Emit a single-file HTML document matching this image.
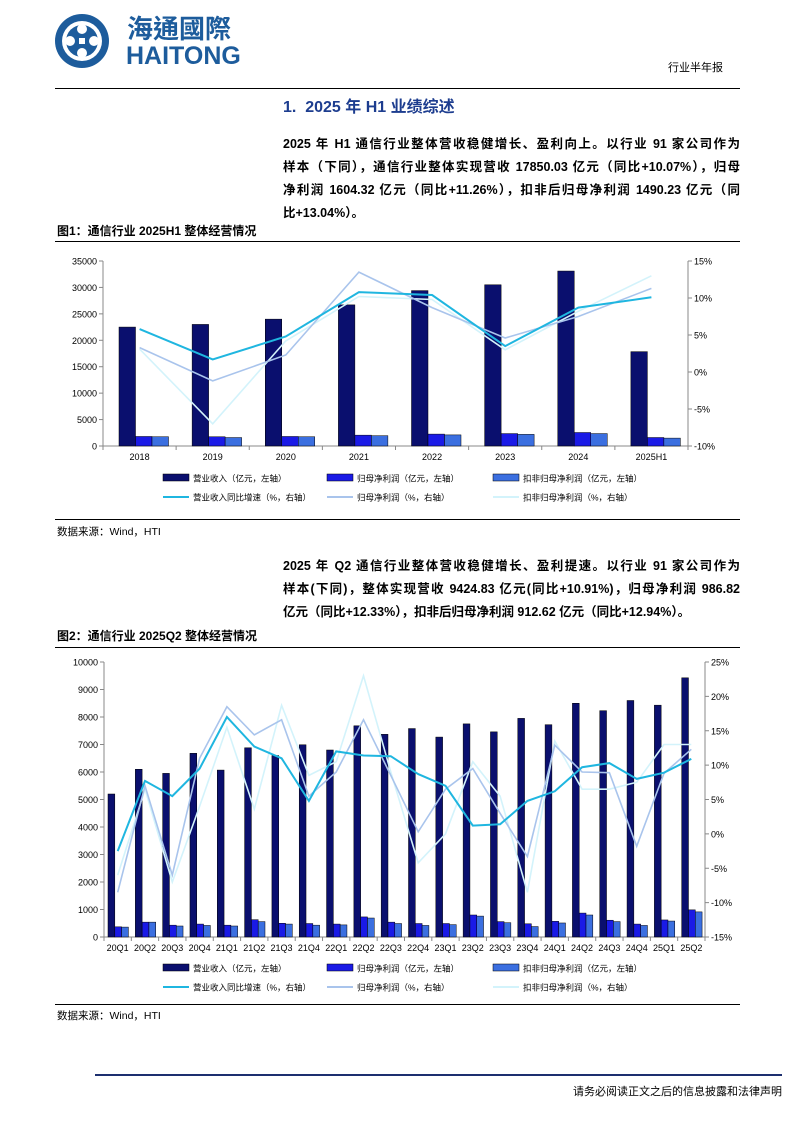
<!DOCTYPE html>
<html><head><meta charset="utf-8">
<style>
body{margin:0;background:#fff;}
#pg{position:relative;width:794px;height:1123px;overflow:hidden;font-family:"Liberation Sans","Noto Sans CJK SC",sans-serif;color:#000;}
.a{position:absolute;white-space:nowrap;}
.p{position:absolute;left:283px;width:457px;font-size:12.5px;font-weight:bold;text-align:justify;text-align-last:justify;white-space:nowrap;}
.ft{position:absolute;left:57px;font-size:12px;font-weight:bold;}
.src{position:absolute;left:57px;font-size:10.5px;}
.hl{position:absolute;left:55px;width:685px;height:1px;background:#000;}
svg{position:absolute;left:0;top:0;}
</style></head><body><div id="pg">
<svg width="794" height="1123">
<g>
<circle cx="82" cy="41" r="27" fill="#1d5c9c"/>
<circle cx="82" cy="41" r="20" fill="#fff"/>
<circle cx="82" cy="41" r="16" fill="#1d5c9c"/>
<circle cx="82" cy="29" r="5" fill="#fff"/><circle cx="82" cy="53" r="5" fill="#fff"/>
<circle cx="70" cy="41" r="5" fill="#fff"/><circle cx="94" cy="41" r="5" fill="#fff"/>
<rect x="79" y="38" width="6" height="6" fill="#fff"/>
</g>
<text x="127" y="38" font-size="26" font-weight="bold" fill="#1d5c9c" font-family="Noto Sans CJK TC,sans-serif">海通國際</text>
<text x="126" y="64" font-size="25" font-weight="bold" fill="#1d5c9c" font-family="Liberation Sans,sans-serif">HAITONG</text>
<g id="c"></g>
</svg>
<div class="a" style="left:668px;top:59px;font-size:11px;">行业半年报</div>
<div class="hl" style="top:88px;"></div>
<div class="a" style="left:283px;top:93px;font-size:16px;font-weight:bold;color:#1d3d8f;">1.&nbsp; 2025 年 H1 业绩综述</div>
<div class="p" style="top:133px;">2025 年 H1 通信行业整体营收稳健增长、盈利向上。以行业 91 家公司作为</div>
<div class="p" style="top:156px;">样本（下同），通信行业整体实现营收 17850.03 亿元（同比+10.07%），归母</div>
<div class="p" style="top:179px;">净利润 1604.32 亿元（同比+11.26%），扣非后归母净利润 1490.23 亿元（同</div>
<div class="a" style="left:283px;top:202px;font-size:12.5px;font-weight:bold;">比+13.04%）。</div>
<div class="ft" style="top:222px;">图1：通信行业 2025H1 整体经营情况</div>
<div class="hl" style="top:241px;"></div>
<div class="hl" style="top:519px;"></div>
<div class="src" style="top:524px;">数据来源：Wind，HTI</div>
<div class="p" style="top:555px;">2025 年 Q2 通信行业整体营收稳健增长、盈利提速。以行业 91 家公司作为</div>
<div class="p" style="top:578px;">样本(下同)，整体实现营收 9424.83 亿元(同比+10.91%)，归母净利润 986.82</div>
<div class="a" style="left:283px;top:601px;font-size:12.5px;font-weight:bold;">亿元（同比+12.33%），扣非后归母净利润 912.62 亿元（同比+12.94%）。</div>
<div class="ft" style="top:627px;">图2：通信行业 2025Q2 整体经营情况</div>
<div class="hl" style="top:647px;"></div>
<div class="hl" style="top:1004px;"></div>
<div class="src" style="top:1008px;">数据来源：Wind，HTI</div>
<div class="a" style="left:95px;top:1074px;width:687px;height:2px;background:#1d2f6f;"></div>
<div class="a" style="right:12px;top:1083px;font-size:11px;">请务必阅读正文之后的信息披露和法律声明</div>
</div>
<script>
var NS='http://www.w3.org/2000/svg',G=document.getElementById('c');
function el(t,a,txt){var e=document.createElementNS(NS,t);for(var k in a)e.setAttribute(k,a[k]);if(txt!=null)e.textContent=txt;G.appendChild(e);return e;}
var C1='#0a0f6e',C2='#1a1ae6',C3='#3b6fe0',L1='#1fb6e0',L2='#a9c4ec',L3='#d3f3fb';
function chart(o){
 var x0=o.x0,x1=o.x1,yb=o.yb,yt=o.yt,n=o.cats.length,cw=(x1-x0)/n;
 el('line',{x1:x0,y1:yt,x2:x0,y2:yb,stroke:'#888'});
 el('line',{x1:x1,y1:yt,x2:x1,y2:yb,stroke:'#888'});
 el('line',{x1:x0,y1:yb,x2:x1,y2:yb,stroke:'#888'});
 for(var i=0;i<=o.ln;i++){var y=yb-(yb-yt)*i/o.ln;
  el('line',{x1:x0-4,y1:y,x2:x0,y2:y,stroke:'#888'});
  el('text',{x:x0-6,y:y+3.5,'font-size':9,'text-anchor':'end','font-family':'Liberation Sans'},String(Math.round(o.lmax*i/o.ln)));}
 var rn=(o.rmax-o.rmin)/5;
 for(var i=0;i<=rn;i++){var y=yb-(yb-yt)*i/rn;
  el('line',{x1:x1,y1:y,x2:x1+4,y2:y,stroke:'#888'});
  el('text',{x:x1+6,y:y+3.5,'font-size':9,'font-family':'Liberation Sans'},(o.rmin+5*i)+'%');}
 for(var i=0;i<=n;i++)el('line',{x1:x0+cw*i,y1:yb,x2:x0+cw*i,y2:yb+4,stroke:'#888'});
 function ly(v){return yb-v/o.lmax*(yb-yt);} function ry(v){return yb-(v-o.rmin)/(o.rmax-o.rmin)*(yb-yt);}
 var bs=[o.b1,o.b2,o.b3],bc=[C1,C2,C3];
 for(var i=0;i<n;i++){var gx=x0+cw*i+o.off;
  for(var j=0;j<3;j++){el('rect',{x:gx+o.bw*j,y:ly(bs[j][i]),width:o.bw,height:yb-ly(bs[j][i]),fill:bc[j],stroke:'#000','stroke-width':0.5});}
  el('text',{x:x0+cw*(i+0.5),y:yb+14,'font-size':9,'text-anchor':'middle','font-family':'Liberation Sans'},o.cats[i]);}
 var ls=[o.l3,o.l2,o.l1],lc=[L3,L2,L1],lw=[1.6,1.6,2];
 for(var j=0;j<3;j++){var pts=ls[j].map(function(v,i){return (x0+cw*(i+0.5)).toFixed(1)+','+ry(v).toFixed(1)}).join(' ');
  el('polyline',{points:pts,fill:'none',stroke:lc[j],'stroke-width':lw[j]});}
 var lx=[163,327,493],lt1=['营业收入（亿元，左轴）','归母净利润（亿元，左轴）','扣非归母净利润（亿元，左轴）'],lt2=['营业收入同比增速（%，右轴）','归母净利润（%，右轴）','扣非归母净利润（%，右轴）'],lc2=[L1,L2,L3];
 for(var j=0;j<3;j++){el('rect',{x:lx[j],y:o.lg-4,width:26,height:7,fill:bc[j],stroke:'#000','stroke-width':0.5});
  el('text',{x:lx[j]+30,y:o.lg+3.5,'font-size':8.5},lt1[j]);
  el('line',{x1:lx[j],y1:o.lg+19,x2:lx[j]+26,y2:o.lg+19,stroke:lc2[j],'stroke-width':2});
  el('text',{x:lx[j]+30,y:o.lg+22.5,'font-size':8.5},lt2[j]);}
}
chart({x0:103,x1:688,yb:446,yt:261,ln:7,lmax:35000,rmin:-10,rmax:15,off:16,bw:16.5,lg:478,
 cats:['2018','2019','2020','2021','2022','2023','2024','2025H1'],
 b1:[22500,23000,24000,26700,29400,30500,33100,17850],b2:[1800,1750,1800,2050,2250,2350,2550,1604],b3:[1750,1600,1750,1950,2100,2200,2350,1490],
 l1:[5.8,1.7,4.8,10.8,10.4,3.5,8.7,10.1],l2:[3.3,-1.2,2.3,13.5,8.7,4.6,7.5,11.3],l3:[3.1,-7.0,4.2,10.2,9.8,3.0,8.2,13.0]});
chart({x0:104,x1:705,yb:937,yt:662,ln:10,lmax:10000,rmin:-15,rmax:25,off:4,bw:6.8,lg:968,
 cats:['20Q1','20Q2','20Q3','20Q4','21Q1','21Q2','21Q3','21Q4','22Q1','22Q2','22Q3','22Q4','23Q1','23Q2','23Q3','23Q4','24Q1','24Q2','24Q3','24Q4','25Q1','25Q2'],
 b1:[5200,6100,5950,6680,6070,6880,6600,6990,6800,7680,7370,7580,7270,7750,7460,7950,7720,8500,8230,8600,8430,9425],
 b2:[370,540,430,470,430,630,500,490,470,730,540,490,490,800,560,480,570,870,610,470,620,987],
 b3:[360,540,400,420,400,560,470,430,440,690,490,420,450,760,520,380,510,800,560,420,580,913],
 l1:[-2.5,7.7,5.5,9.5,17,12.7,11,4.8,12,11.4,11.3,8.7,7,1.2,1.4,4.8,6.2,9.7,10.3,8,8.9,10.9],
 l2:[-8.5,7,-6,11,18.5,14.4,16.6,5.5,9,16.6,8.5,0.3,6.5,9.5,3,-3.3,12.9,9,8.9,-1.8,8.8,12.3],
 l3:[-6,6.5,-7,4,15.5,3.6,18.7,8.5,10.5,23,9,-4.2,0,10.5,5.5,-8.5,13.5,6.5,6.5,7.5,13,13]});
</script>
</body></html>
